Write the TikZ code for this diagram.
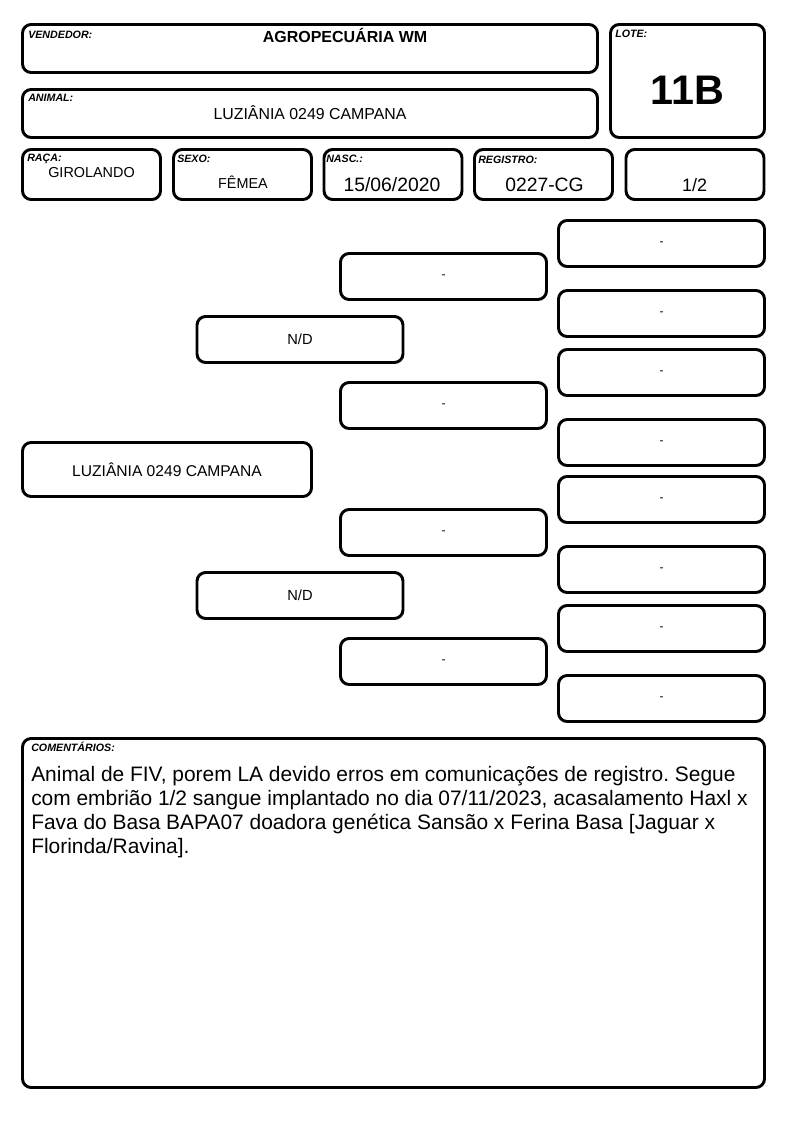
\documentclass[tikz,border=0pt]{standalone}
\usepackage{fontspec}
\setmainfont{Liberation Sans}
\usepackage{tikz}
\usetikzlibrary{positioning}
\frenchspacing

\begin{document}
\begin{tikzpicture}[
    x=0.75pt, y=-0.75pt,
    box/.style={draw, line width=2.2pt, rounded corners=6.5pt,
                inner sep=0pt},
    wide/.style={box, minimum width=431.25pt, minimum height=36pt},
    small/.style={box, minimum width=103.5pt, minimum height=37.5pt},
    cell/.style={box, minimum width=154.5pt, minimum height=34.5pt,
                 font=\fontsize{9}{11}\selectfont},
    parent/.style={cell, font=\fontsize{11}{13}\selectfont},
    tag/.style={anchor=base west, inner sep=0pt,
                font=\fontsize{8}{9.5}\bfseries\itshape\selectfont},
    val/.style={anchor=base, inner sep=0pt},
  ]
  \useasboundingbox (0,0) rectangle (794,1123);

  % header
  \node[wide] (vend) at (310,48.5) {};
  \node[box, minimum width=115.5pt, minimum height=84.75pt] (lote) at (687.5,81) {};
  \node[wide] (anim) at (310,113.5) {};
  \node[small] (raca) at (91.5,174.5)  {};
  \node[small] (sexo) at (242.5,174.5) {};
  \node[small] (nasc) at (393,174.5)   {};
  \node[small] (regi) at (543.5,174.5) {};
  \node[small] (frac) at (695,174.5)   {};

  \node[tag] (vendtag) at (28,39)   {VENDEDOR:};
  \node[tag] (lotetag) at (615,38)  {LOTE:};
  \node[tag] (animtag) at (28,102)  {ANIMAL:};
  \node[tag] (racatag) at (27,162)  {RAÇA:};
  \node[tag] (sexotag) at (177,163) {SEXO:};
  \node[tag] (nasctag) at (326,163) {NASC.:};
  \node[tag] (regitag) at (478,164) {REGISTRO:};

  \node[val, font=\fontsize{12}{14}\bfseries\selectfont] (vendval) at (345,43) {AGROPECUÁRIA WM};
  \node[val, font=\fontsize{31}{35}\bfseries\selectfont] (loteval) at (687.5,105) {11B};
  \node[val, font=\fontsize{11.9}{14}\selectfont] (animval) at (310,120) {LUZIÂNIA 0249 CAMPANA};
  \node[val, font=\fontsize{10.8}{13}\selectfont] (racaval) at (91.5,177.5) {GIROLANDO};
  \node[val, font=\fontsize{10.8}{13}\selectfont] (sexoval) at (243,189) {FÊMEA};
  \node[val, font=\fontsize{14.5}{17}\selectfont] (nascval) at (392,191.5) {15/06/2020};
  \node[val, font=\fontsize{14.5}{17}\selectfont] (regival) at (544.5,191.5) {0227-CG};
  \node[val, font=\fontsize{13.5}{16}\selectfont] (fracval) at (694.5,192) {1/2};

  % pedigree
  \node[box, minimum width=216.75pt, minimum height=40.5pt,
        font=\fontsize{11.7}{14}\selectfont] (self) at (167,469.5) {LUZIÂNIA 0249 CAMPANA};
  \node[parent] (pai) at (300,339.5) {N/D};
  \node[parent] (mae) at (300,595.5) {N/D};
  \node[cell] (avo1) at (443.5,276.5) {-};
  \node[cell] (avo2) at (443.5,405.5) {-};
  \node[cell] (avo3) at (443.5,532.5) {-};
  \node[cell] (avo4) at (443.5,661.5) {-};
  \foreach \yy [count=\i] in {243.5,313.5,372.5,442.5,499.5,569.5,628.5,698.5}
    \node[cell] (bis\i) at (661.5,\yy) {-};

  % comentarios
  \node[box, minimum width=556.5pt, minimum height=261.75pt] (coment) at (393.5,913) {};
  \node[tag] (comenttag) at (31,751) {COMENTÁRIOS:};
  \node[anchor=north west, inner sep=0pt, align=left,
        font=\fontsize{15.7}{18}\selectfont] (comenttxt) at (31,766)
    {Animal de FIV, porem LA devido erros em comunicações de registro. Segue\\
     com embrião 1/2 sangue implantado no dia 07/11/2023, acasalamento Haxl x\\
     Fava do Basa BAPA07 doadora genética Sansão x Ferina Basa [Jaguar x\\
     Florinda/Ravina].};
\end{tikzpicture}
\end{document}
